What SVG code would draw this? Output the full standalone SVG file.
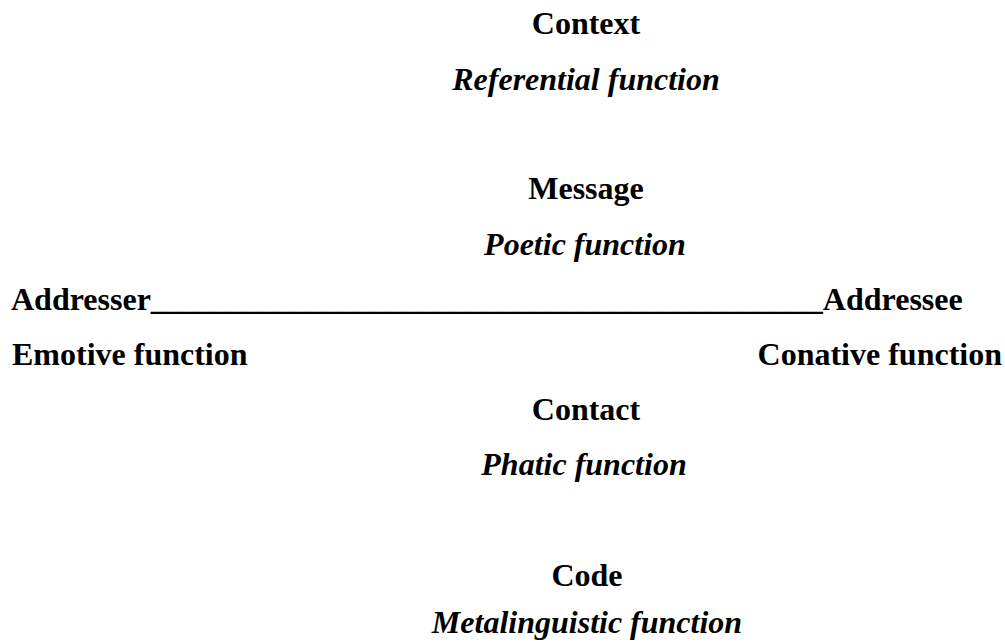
<svg xmlns="http://www.w3.org/2000/svg" width="1005" height="643" viewBox="0 0 1005 643">
<style>
text{font-family:"Liberation Serif","Times New Roman",serif;font-size:32px;font-weight:bold;fill:#000}
.c{text-anchor:middle}
.i{font-style:italic}
.e{text-anchor:end}
</style>
<rect width="1005" height="643" fill="#fff"/>
<g id="connectors"></g>
<g id="context"><text class="c" x="586" y="34">Context</text><text class="c i" x="586" y="90">Referential function</text></g>
<g id="message"><text class="c" x="586" y="199">Message</text><text class="c i" x="585" y="255">Poetic function</text></g>
<g id="addresser"><text x="11" y="310">Addresser__________________________________________Addressee</text></g>
<g id="emotive"><text x="12" y="365">Emotive function</text></g>
<g id="conative"><text class="e" x="1002" y="365">Conative function</text></g>
<g id="contact"><text class="c" x="586" y="420">Contact</text><text class="c i" x="584" y="475">Phatic function</text></g>
<g id="code"><text class="c" x="587" y="586">Code</text><text class="c i" x="587" y="633">Metalinguistic function</text></g>
</svg>
